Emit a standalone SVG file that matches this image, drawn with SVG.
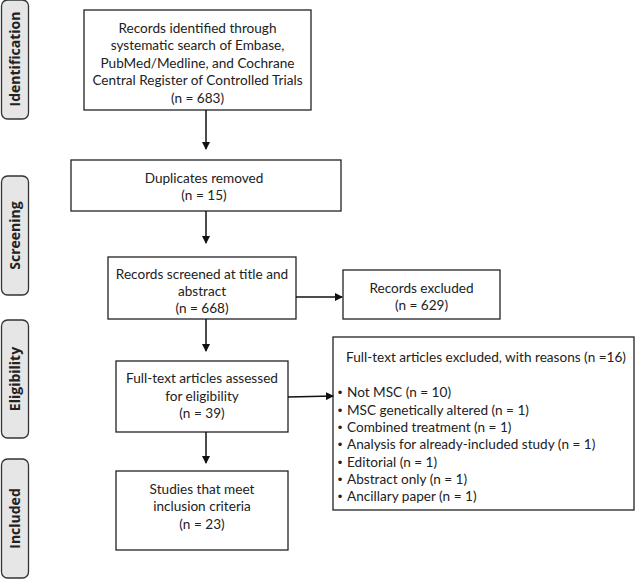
<svg xmlns="http://www.w3.org/2000/svg" width="638" height="579" viewBox="0 0 638 579">
<defs>
<marker id="ah" markerWidth="8" markerHeight="8" refX="7" refY="4" orient="auto" markerUnits="userSpaceOnUse">
<path d="M0,0 L8,4 L0,8 z" fill="#111"/>
</marker>
<style>
.box{fill:#fff;stroke:#222;stroke-width:1.3}
.side{fill:#e6e6e6;stroke:#333;stroke-width:1.3}
.t{font-family:Lato,"Liberation Sans",sans-serif;font-size:13.6px;fill:#222;text-anchor:middle}
.l{font-family:Lato,"Liberation Sans",sans-serif;font-size:13.6px;fill:#222}
.b{font-family:"DejaVu Sans",sans-serif;font-size:12px;fill:#222;text-anchor:middle}
.s{font-family:"Open Sans","Liberation Sans",sans-serif;font-size:14px;font-weight:bold;fill:#222;text-anchor:middle}
.c{stroke:#111;stroke-width:1.5;fill:none}
</style>
</defs>
<rect width="638" height="579" fill="#fff"/>
<g id="side-identification"><rect class="side" x="1.5" y="0" width="27" height="119" rx="6"/><text class="s" transform="translate(20,59) rotate(-90)">Identification</text></g>
<g id="side-screening"><rect class="side" x="1.5" y="176" width="27" height="119" rx="6"/><text class="s" transform="translate(20,235.5) rotate(-90)">Screening</text></g>
<g id="side-eligibility"><rect class="side" x="1.5" y="320" width="27" height="118" rx="6"/><text class="s" transform="translate(20,379) rotate(-90)">Eligibility</text></g>
<g id="side-included"><rect class="side" x="1.5" y="459" width="27" height="119" rx="6"/><text class="s" transform="translate(20,518.5) rotate(-90)">Included</text></g>

<g id="n1"><rect class="box" x="84" y="10" width="227" height="100"/>
<text class="t" x="197.5" y="33">Records identified through</text>
<text class="t" x="197.5" y="50">systematic search of Embase,</text>
<text class="t" x="197.5" y="67.5">PubMed/Medline, and Cochrane</text>
<text class="t" x="197.5" y="85">Central Register of Controlled Trials</text>
<text class="t" x="197.5" y="102.5">(n = 683)</text></g>

<g id="n2"><rect class="box" x="71" y="160" width="270" height="51"/>
<text class="t" x="204" y="183">Duplicates removed</text>
<text class="t" x="204" y="200">(n = 15)</text></g>

<g id="n3"><rect class="box" x="108" y="257" width="188" height="62"/>
<text class="t" x="202" y="279">Records screened at title and</text>
<text class="t" x="202" y="296">abstract</text>
<text class="t" x="202" y="313">(n = 668)</text></g>

<g id="n4"><rect class="box" x="343" y="270" width="157" height="49"/>
<text class="t" x="421.5" y="293">Records excluded</text>
<text class="t" x="421.5" y="310">(n = 629)</text></g>

<g id="n5"><rect class="box" x="116" y="361" width="172" height="71"/>
<text class="t" x="202" y="383">Full-text articles assessed</text>
<text class="t" x="202" y="400.5">for eligibility</text>
<text class="t" x="202" y="418">(n = 39)</text></g>

<g id="n6"><rect class="box" x="333" y="337" width="301" height="173"/>
<text class="t" x="486" y="362">Full-text articles excluded, with reasons (n =16)</text>
<g class="b"><text x="340" y="397">•</text><text x="340" y="414.5">•</text><text x="340" y="432">•</text><text x="340" y="449">•</text><text x="340" y="466.5">•</text><text x="340" y="484">•</text><text x="340" y="501">•</text></g>
<text class="l" x="347" y="397">Not MSC (n = 10)</text>
<text class="l" x="347" y="414.5">MSC genetically altered (n = 1)</text>
<text class="l" x="347" y="432">Combined treatment (n = 1)</text>
<text class="l" x="347" y="449">Analysis for already-included study (n = 1)</text>
<text class="l" x="347" y="466.5">Editorial (n = 1)</text>
<text class="l" x="347" y="484">Abstract only (n = 1)</text>
<text class="l" x="347" y="501">Ancillary paper (n = 1)</text></g>

<g id="n7"><rect class="box" x="116" y="471" width="172" height="79"/>
<text class="t" x="202" y="494">Studies that meet</text>
<text class="t" x="202" y="511">inclusion criteria</text>
<text class="t" x="202" y="529">(n = 23)</text></g>

<g id="connectors">
<line class="c" x1="206" y1="110" x2="206" y2="149" marker-end="url(#ah)"/>
<line class="c" x1="206" y1="211" x2="206" y2="243" marker-end="url(#ah)"/>
<line class="c" x1="206" y1="319" x2="206" y2="351" marker-end="url(#ah)"/>
<line class="c" x1="206" y1="432" x2="206" y2="463" marker-end="url(#ah)"/>
<line class="c" x1="296" y1="297" x2="342" y2="297" marker-end="url(#ah)"/>
<line class="c" x1="288" y1="397" x2="333" y2="396" marker-end="url(#ah)"/>
</g>
</svg>
